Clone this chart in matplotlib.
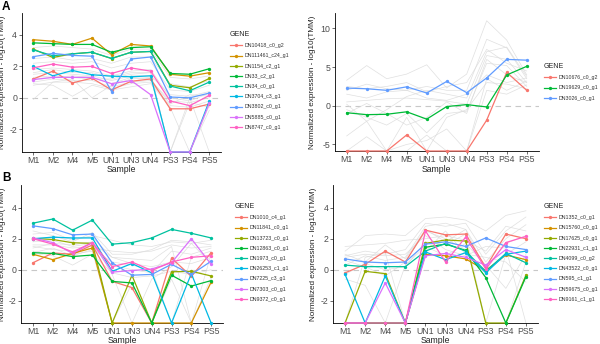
import numpy as np
import matplotlib
matplotlib.use("Agg")
import matplotlib.pyplot as plt
from matplotlib.lines import Line2D

plt.rcParams['font.family'] = ['Liberation Sans', 'DejaVu Sans']

NI = float('-inf')
samples = ["M1", "M2", "M4", "M5", "UN1", "UN3", "UN4", "PS3", "PS4", "PS5"]
hue9 = ["#F8766D", "#D39200", "#93AA00", "#00BA38", "#00C19F", "#00B9E3", "#619CFF", "#DB72FB", "#FF61C3"]
hue3 = ["#F8766D", "#00BA38", "#619CFF"]

# ---- Panel A left ----
a1_genes = ["DN10418_c0_g2", "DN111461_c24_g1", "DN1154_c2_g1", "DN33_c2_g1", "DN34_c0_g1",
            "DN3704_c3_g1", "DN3802_c0_g1", "DN5885_c0_g1", "DN8747_c0_g1"]
a1_vals = [
    [1.2, 1.7, 0.95, 1.25, 0.5, 1.05, 1.2, -0.7, -0.7, -0.4],
    [3.7, 3.6, 3.4, 3.8, 2.75, 3.4, 3.3, 1.5, 1.38, 1.6],
    [3.1, 2.57, 2.8, 2.9, 2.5, 2.9, 2.95, 0.8, 0.64, 1.23],
    [3.5, 3.45, 3.4, 3.4, 2.9, 3.2, 3.25, 1.55, 1.5, 1.85],
    [3.05, 2.68, 2.8, 2.9, 2.51, 2.9, 2.95, 0.75, 0.45, 1.0],
    [2.0, 1.4, 1.74, 1.47, 1.38, 1.34, 1.4, NI, NI, -0.2],
    [2.62, 2.83, 2.7, 2.65, 0.4, 2.47, 2.6, 0.05, 0.0, 0.3],
    [1.16, 1.3, 1.3, 1.3, 0.9, 1.1, 0.2, NI, NI, -0.35],
    [1.91, 2.15, 1.95, 2.0, 1.55, 1.9, 1.7, -0.2, -0.5, 0.15],
]
a1_bg = [
    [1.0, 1.2, 1.1, 1.1, 0.7, 1.0, 1.1, -0.2, -0.3, 0.0],
    [1.5, 1.6, 1.5, 1.4, 1.1, 1.4, 1.4, 0.2, 0.1, 0.4],
    [2.2, 2.3, 2.2, 2.3, 1.9, 2.2, 2.3, 0.5, 0.4, 0.8],
    [0.8, 1.0, 1.0, 0.9, 0.6, 0.9, 1.0, -0.5, -0.6, -0.2],
    [2.5, 2.6, 2.4, 2.5, 2.2, 2.6, 2.6, 0.9, 0.7, 1.1],
    [1.8, 1.9, 1.8, 1.7, 1.4, 1.7, 1.8, 0.0, -0.2, 0.3],
    [-0.1, 1.0, 1.2, 0.0, 0.8, 1.2, 1.3, NI, 0.0, NI],
    [1.3, 1.4, 1.3, 1.2, 1.2, 1.5, 1.6, NI, -0.3, -0.6],
    [3.2, 3.3, 3.2, 3.1, 2.7, 3.1, 3.1, 1.3, 1.2, 1.4],
    [1.6, 1.8, 1.6, 1.6, 1.3, 1.6, 1.6, NI, NI, -0.8],
    [0.9, 0.8, 0.1, 0.8, 0.5, 0.7, 0.9, -0.6, NI, -0.5],
    [1.2, 1.3, 1.4, 1.3, 0.9, 1.3, 1.2, -0.4, 0.2, 0.1],
]

# ---- Panel A right ----
a2_genes = ["DN10676_c0_g2", "DN19629_c0_g1", "DN3026_c0_g1"]
a2_vals = [
    [NI, NI, NI, -3.77, NI, NI, NI, -1.86, 4.33, 2.0],
    [-0.9, -1.15, -1.1, -0.78, -1.73, -0.1, 0.15, -0.15, 3.98, 5.1],
    [2.29, 2.2, 2.0, 2.45, 1.65, 3.15, 1.7, 3.6, 6.0, 5.9],
]
a2_bg = [
    [3.3, 5.2, 3.5, 4.1, 5.3, 2.3, 4.1, 11.0, 8.5, 4.0],
    [2.0, 2.8, 2.2, 2.0, 2.5, 2.0, 2.0, 8.6, 7.5, 3.5],
    [-3.9, -2.0, -0.5, 1.2, 2.0, 1.5, 1.0, 7.0, 7.6, 3.8],
    [0.5, 0.7, 0.9, 1.0, 0.8, 0.6, 0.2, 6.5, 6.0, 3.0],
    [-0.5, -1.5, -2.5, -1.0, -3.5, -1.0, -0.7, 5.5, 5.2, 2.5],
    [1.5, 1.0, 1.8, 2.0, 1.0, 0.7, 1.5, 4.0, 3.0, 3.6],
    [NI, NI, NI, -5.0, -4.5, -3.0, NI, 3.5, 2.0, 3.2],
    [0.2, -2.0, NI, -1.5, NI, -1.5, -0.5, 3.0, 2.8, 2.2],
    [2.5, 2.2, 2.5, 3.0, 1.8, 2.5, 3.0, 7.3, 5.5, 4.5],
    [-1.0, 0.3, -1.0, -2.5, -1.5, 0.5, -1.0, 6.0, 4.0, 3.0],
    [NI, -4.0, NI, NI, -3.8, NI, NI, 2.0, 1.5, 2.7],
]

# ---- Panel B left ----
b1_genes = ["DN1010_c4_g1", "DN11841_c0_g1", "DN13723_c0_g1", "DN12863_c0_g1", "DN1973_c0_g1",
            "DN26253_c1_g1", "DN7225_c3_g1", "DN7303_c0_g1", "DN9372_c0_g1"]
b1_vals = [
    [0.45, 1.08, 1.0, 1.6, -0.75, -1.15, NI, 0.75, -0.43, 1.1],
    [1.0, 0.65, 1.05, 1.4, NI, NI, NI, NI, NI, -0.8],
    [2.02, 1.95, 1.74, 1.7, NI, -0.36, NI, -0.13, -0.1, -0.4],
    [1.1, 1.05, 0.85, 0.95, -0.75, -0.85, NI, -0.35, -1.05, -0.7],
    [3.0, 3.27, 2.55, 3.2, 1.65, 1.75, 2.05, 2.6, 2.35, 2.05],
    [2.0, 2.1, 2.05, 2.05, -0.1, 0.4, -0.2, NI, -0.25, NI],
    [2.83, 2.65, 2.25, 2.3, 0.45, -0.35, -0.3, 0.35, -0.3, 0.55],
    [2.05, 1.75, 1.05, 1.75, -0.15, -0.05, 0.05, 0.45, 2.0, 0.35],
    [2.0, 1.65, 1.15, 1.75, 0.2, 0.5, -0.05, 0.5, 0.8, 0.9],
]
b1_bg = [
    [1.8, 1.9, 1.5, 1.7, 0.8, 0.4, 0.2, 0.5, 0.4, 0.8],
    [1.5, 1.3, 1.2, 1.4, 1.2, 1.1, 1.2, 1.6, 1.4, 1.5],
    [2.3, 2.4, 1.9, 2.2, 1.9, 1.6, 1.5, 1.8, 1.7, 1.9],
    [1.2, 0.9, 0.3, 1.0, -0.2, -0.5, -0.4, -0.1, -0.3, 0.0],
    [1.6, 1.6, 1.4, 1.5, 0.3, 0.0, -0.2, 1.2, 1.0, 1.4],
    [0.9, 1.1, 1.0, 1.2, NI, -0.9, NI, -0.6, NI, -0.5],
    [2.0, 2.1, 2.0, 2.1, 0.8, 0.7, 0.6, 1.5, NI, 1.0],
    [1.4, 1.7, 1.6, 1.8, -0.3, NI, -0.6, 0.2, 1.7, 0.4],
    [1.1, 1.4, 0.9, 1.3, 0.5, 0.3, 0.0, NI, 0.8, 1.2],
    [2.5, 2.2, 1.8, 2.4, 1.0, 1.0, 1.3, 1.9, 1.8, 1.6],
]

# ---- Panel B right ----
b2_genes = ["DN1352_c0_g1", "DN15760_c0_g1", "DN17625_c0_g1", "DN22931_c1_g1", "DN4099_c0_g2",
            "DN43522_c0_g1", "DN595_c1_g1", "DN59675_c0_g1", "DN9161_c1_g1"]
b2_vals = [
    [-0.2, 0.35, 1.2, 0.5, 2.55, 2.25, 2.3, 0.15, 2.3, 2.0],
    [NI, NI, NI, NI, 1.0, 0.9, 0.7, -0.05, 0.95, 0.65],
    [NI, -0.1, -0.25, NI, 1.7, 1.92, 1.85, NI, NI, -0.35],
    [NI, NI, NI, NI, 1.45, 1.65, 1.25, -0.5, NI, -0.45],
    [0.3, 0.2, 0.2, 0.2, 1.2, 1.7, 1.2, -0.1, 1.05, 0.45],
    [-0.3, NI, -0.4, NI, 1.15, 0.65, 1.1, -0.2, 1.0, 1.2],
    [0.7, 0.5, 0.45, 0.5, 1.65, 1.8, 1.5, 2.05, 1.5, 1.3],
    [NI, NI, -0.85, NI, 0.9, 1.05, 0.8, 0.3, 1.3, 0.8],
    [NI, NI, NI, NI, 2.5, 0.5, 2.1, 0.05, 1.75, 2.15],
]
b2_bg = [
    [1.2, 2.2, 2.3, 2.2, 3.3, 3.4, 3.2, 2.5, 3.5, 3.8],
    [0.9, 1.2, 1.0, 1.3, 3.0, 2.8, 3.0, 1.0, 2.5, 3.4],
    [0.3, 0.9, 0.6, 0.8, 2.8, 3.0, 2.6, 0.5, 2.0, 2.9],
    [1.5, 1.6, 1.7, 1.9, 2.0, 2.2, 1.9, 1.2, 2.8, 2.5],
    [-0.3, 0.4, 0.0, 0.2, 1.8, 1.6, 2.3, NI, 1.0, 1.8],
    [0.6, 0.2, -0.4, 0.5, 2.5, 2.0, 1.3, -0.5, NI, 0.5],
    [NI, 0.8, 1.1, NI, 1.2, 2.5, 1.0, 0.8, 0.5, -0.8],
    [0.8, 1.0, 0.9, 1.0, 2.2, 1.3, 0.9, 1.5, 1.4, NI],
    [-0.6, -1.0, NI, 0.3, 1.5, 0.9, 1.7, 0.3, -1.2, 1.0],
    [1.0, 0.5, 1.6, 0.7, 2.6, 1.8, 2.6, 0.0, 1.7, 2.2],
]

W, H = 600, 344
fig = plt.figure(figsize=(W / 100, H / 100), dpi=100)


def px_axes(l, t, r, b):
    return fig.add_axes([l / W, 1 - b / H, (r - l) / W, (b - t) / H])


def panel(rect, genes, vals, bg, colors, ylim, yticks, leg_xy, ylab_x, xlab_y):
    ax = px_axes(*rect)
    x = np.arange(len(samples))
    lo = ylim[0]
    ax.axhline(0, color="#C8C8C8", lw=0.8, ls=(0, (5, 4)), zorder=1)
    for row in bg:
        v = np.array(row, dtype=float)
        v = np.where(np.isneginf(v), lo, v)
        ax.plot(x, v, color="#DADADA", lw=0.5, alpha=0.85, zorder=2, clip_on=False)
    handles = []
    for g, row, c in zip(genes, vals, colors):
        v = np.array(row, dtype=float)
        v = np.where(np.isneginf(v), lo, v)
        ax.plot(x, v, color=c, lw=0.9, marker="o", ms=2.4, mew=0, zorder=3, clip_on=False)
        handles.append(Line2D([], [], color=c, lw=0.9, marker="o", ms=2.4, mew=0))
    ax.set_xlim(-0.6, len(samples) - 0.4)
    ax.set_ylim(*ylim)
    ax.set_xticks(x)
    ax.set_xticklabels(samples)
    ax.set_yticks(yticks)
    ax.set_yticklabels([str(t) if t >= 0 else "-" + str(-t) for t in yticks])
    for s in ["top", "right"]:
        ax.spines[s].set_visible(False)
    for s in ["left", "bottom"]:
        ax.spines[s].set_color("black")
        ax.spines[s].set_linewidth(0.6)
    ax.tick_params(axis="both", labelsize=6.3, colors="#333333", labelcolor="#4D4D4D",
                   length=2, width=0.5, pad=1.2)
    ax.set_xlabel("Sample", fontsize=6.2, color="#222222")
    ax.set_ylabel("Normalized expression - log10(TMM)", fontsize=5.9, color="#222222")
    l, t, r, b = rect
    ax.yaxis.set_label_coords((ylab_x - l) / (r - l), 0.5)
    ax.xaxis.set_label_coords(0.5, -(xlab_y - b) / (b - t))
    leg = ax.legend(handles, genes, loc="upper left",
                    bbox_to_anchor=(leg_xy[0] / W, 1 - leg_xy[1] / H),
                    bbox_transform=fig.transFigure, frameon=False, fontsize=3.75,
                    title="GENE", title_fontsize=5.0, handlelength=2.3, handletextpad=0.45,
                    labelspacing=1.0, borderpad=0, borderaxespad=0, numpoints=1,
                    alignment="left")
    leg.get_title().set_color("#222222")
    for tx in leg.get_texts():
        tx.set_color("#333333")
    return ax


panel((21.6, 13, 221, 152), a1_genes, a1_vals, a1_bg, hue9, (-3.45, 5.4), [-2, 0, 2, 4],
      (230, 31), 6.5, 165)
panel((334.7, 13, 538.7, 151), a2_genes, a2_vals, a2_bg, hue3, (-5.85, 12.0), [-5, 0, 5, 10],
      (544, 63), 316.5, 165)
panel((21.1, 185, 223, 323), b1_genes, b1_vals, b1_bg, hue9, (-3.43, 5.46), [-2, 0, 2, 4],
      (235, 203), 6.5, 336)
panel((333, 185, 538, 323), b2_genes, b2_vals, b2_bg, hue9, (-3.43, 5.46), [-2, 0, 2, 4],
      (544, 203), 316.5, 336)

fig.text(2 / W, 1 - 1 / H, "A", fontsize=8.5, fontweight="bold", va="top", ha="left")
fig.text(2 / W, 1 - 172 / H, "B", fontsize=8.5, fontweight="bold", va="top", ha="left")

fig.savefig("out.png", dpi=100)
